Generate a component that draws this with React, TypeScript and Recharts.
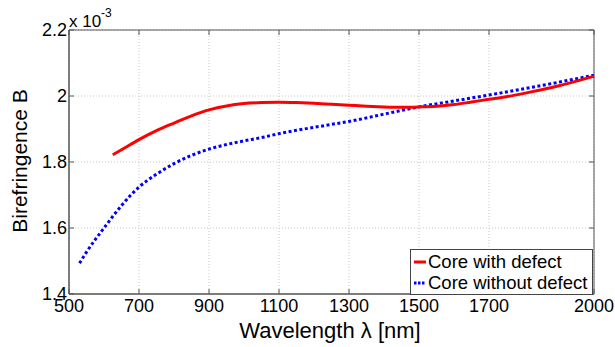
import React from 'react';
import { LineChart, Line, XAxis, YAxis, CartesianGrid, Legend, ReferenceArea } from 'recharts';

// wavelength [nm] and birefringence (x 10^-3)
const defectWavelengths = [625, 650, 700, 750, 800, 850, 900, 950, 1000, 1050, 1100, 1150, 1200, 1250, 1300, 1350, 1400, 1450, 1500, 1550, 1600, 1650, 1700, 1750, 1800, 1850, 1900, 1950, 2000];
const defectValues = [1.822, 1.837, 1.868, 1.895, 1.918, 1.94, 1.958, 1.97, 1.977, 1.98, 1.981, 1.98, 1.978, 1.975, 1.972, 1.969, 1.967, 1.966, 1.967, 1.969, 1.974, 1.982, 1.99, 1.998, 2.008, 2.019, 2.031, 2.045, 2.06];

const noDefectWavelengths = [530, 550, 600, 650, 700, 750, 800, 850, 900, 950, 1000, 1050, 1100, 1150, 1200, 1250, 1300, 1400, 1500, 1600, 1700, 1800, 1900, 2000];
const noDefectValues = [1.493, 1.527, 1.6, 1.668, 1.724, 1.763, 1.795, 1.82, 1.839, 1.853, 1.864, 1.874, 1.886, 1.896, 1.905, 1.914, 1.923, 1.945, 1.967, 1.985, 2.003, 2.022, 2.042, 2.063];

const xTicks = [500, 700, 900, 1100, 1300, 1500, 1700, 2000];
const yTicks = [1.4, 1.6, 1.8, 2, 2.2];

const withDefect = defectWavelengths.map((x, i) => ({ x, y: defectValues[i] }));
const withoutDefect = noDefectWavelengths.map((x, i) => ({ x, y: noDefectValues[i] }));

const FONT = '"Liberation Sans", Arial, sans-serif';
const AXIS = '#555';
const PLOT_H = 264;
const PLOT_W = 525;

const XTick = (props: any) => {
  const { x, y, payload } = props;
  return (
    <g>
      <line x1={x} y1={y} x2={x} y2={y - 5} stroke={AXIS} />
      <line x1={x} y1={y - PLOT_H} x2={x} y2={y - PLOT_H + 5} stroke={AXIS} />
      <text x={x} y={y + 18} textAnchor="middle" fontSize={18} fontFamily={FONT} fill="#000">
        {payload.value}
      </text>
    </g>
  );
};

const YTick = (props: any) => {
  const { x, y, payload } = props;
  return (
    <g>
      <line x1={x} y1={y} x2={x + 5} y2={y} stroke={AXIS} />
      <line x1={x + PLOT_W} y1={y} x2={x + PLOT_W - 5} y2={y} stroke={AXIS} />
      <text x={x - 2} y={y + 6} textAnchor="end" fontSize={18} fontFamily={FONT} fill="#000">
        {payload.value}
      </text>
    </g>
  );
};

const renderLegend = () => (
  <div
    style={{
      border: '1px solid #444',
      background: '#fff',
      fontFamily: FONT,
      fontSize: 18.5,
      lineHeight: '21px',
      padding: '1px 0 1px 2px',
      boxSizing: 'border-box',
      width: 183,
      height: 46,
    }}
  >
    <div style={{ display: 'flex', alignItems: 'center', whiteSpace: 'nowrap' }}>
      <svg width={14} height={10}>
        <line x1={1} y1={5} x2={13} y2={5} stroke="#ff0000" strokeWidth={3} />
      </svg>
      <span style={{ marginLeft: 1 }}>Core with defect</span>
    </div>
    <div style={{ display: 'flex', alignItems: 'center', whiteSpace: 'nowrap' }}>
      <svg width={14} height={10}>
        <line x1={1} y1={5} x2={13} y2={5} stroke="#0000ff" strokeWidth={3} strokeDasharray="2.5 1.5" />
      </svg>
      <span style={{ marginLeft: 1 }}>Core without defect</span>
    </div>
  </div>
);

export default function App() {
  return (
    <div style={{ position: 'absolute', left: 0, top: 0, width: 615, height: 347, background: '#fff' }}>
      <LineChart width={615} height={347} margin={{ top: 30, right: 21, bottom: 0, left: 0 }}>
        <CartesianGrid stroke="#c8c8c8" strokeDasharray="1 2" />
        <XAxis
          dataKey="x"
          type="number"
          domain={[500, 2000]}
          ticks={xTicks}
          allowDuplicatedCategory={false}
          stroke={AXIS}
          tickSize={0}
          tickMargin={0}
          tick={<XTick />}
          height={53}
        />
        <YAxis
          dataKey="y"
          type="number"
          domain={[1.4, 2.2]}
          ticks={yTicks}
          stroke={AXIS}
          tickSize={0}
          tickMargin={0}
          tick={<YTick />}
          width={69}
        />
        <ReferenceArea x1={500} x2={2000} y1={1.4} y2={2.2} fill="none" stroke={AXIS} ifOverflow="visible" />
        <Line
          data={withoutDefect}
          dataKey="y"
          type="monotone"
          stroke="#0000ff"
          strokeWidth={3}
          strokeDasharray="3 2.5"
          dot={false}
          isAnimationActive={false}
          name="Core without defect"
        />
        <Line
          data={withDefect}
          dataKey="y"
          type="monotone"
          stroke="#ff0000"
          strokeWidth={3}
          dot={false}
          isAnimationActive={false}
          name="Core with defect"
        />
        <Legend
          layout="vertical"
          align="center"
          verticalAlign="middle"
          content={renderLegend}
          wrapperStyle={{ left: 410, top: 249, width: 183, height: 46 }}
        />
        <text x={69} y={27} fontSize={17} fontFamily={FONT} fill="#000">
          x 10
        </text>
        <text x={101} y={17} fontSize={12} fontFamily={FONT} fill="#000">
          -3
        </text>
        <text
          x={330}
          y={338}
          textAnchor="middle"
          fontSize={22}
          fontFamily={FONT}
          fill="#000"
        >
          Wavelength λ [nm]
        </text>
        <text
          x={0}
          y={0}
          transform="translate(27, 161) rotate(-90)"
          textAnchor="middle"
          fontSize={21}
          fontFamily={FONT}
          fill="#000"
        >
          Birefringence B
        </text>
      </LineChart>
    </div>
  );
}
